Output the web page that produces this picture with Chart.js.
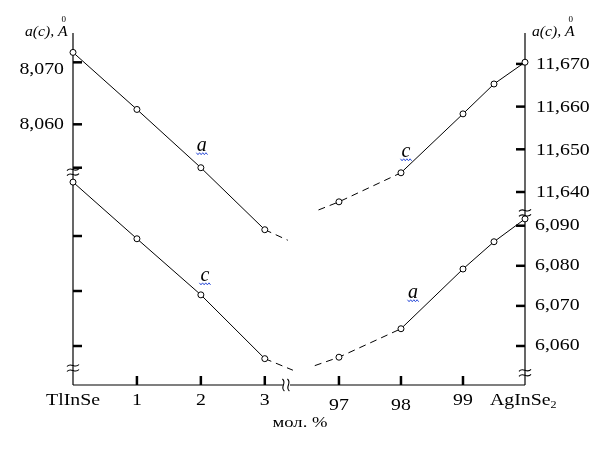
<!DOCTYPE html>
<html>
<head>
<meta charset="utf-8">
<script src="https://cdn.jsdelivr.net/npm/chart.js@4.4.0/dist/chart.umd.min.js"></script>
<style>
    body { margin: 0; background: #fff; }
    canvas { display: block; }
</style>
</head>
<body>
<canvas id="latticeChart" width="611" height="450"></canvas>
<script>
// --- Data ---
// composition in mol. %; the extra point at the break is where the dashed trend stops
const tlinseAComp = [0, 1, 2, 3, 3.36];
const tlinseA = [8.0716, 8.0624, 8.0530, 8.0430, 8.0413];
const tlinseCComp = [0, 1, 2, 3, 3.44];
const tlinseC = [6.8598, 6.8495, 6.8393, 6.8277, 6.8256];
const aginseCComp = [96.67, 97, 98, 99, 99.5, 100];
const aginseC = [11.6358, 11.6377, 11.6445, 11.6583, 11.6653, 11.6704];
const aginseAComp = [96.61, 97, 98, 99, 99.5, 100];
const aginseA = [6.0551, 6.0572, 6.0643, 6.0792, 6.0860, 6.0917];

const xTickValues = [0, 1, 2, 3, 97, 98, 99, 100];
const xTickLabels = ['TlInSe', '1', '2', '3', '97', '98', '99', 'AgInSe'];
const leftTicksA = [8.053, 8.060, 8.070];
const leftTicksC = [6.830, 6.840, 6.850];   // no labels in the original
const rightTicksC = [11.640, 11.650, 11.660, 11.670];
const rightTicksA = [6.060, 6.070, 6.080, 6.090];

// --- Utilities ---
// the composition axis is broken between 3 and 97 mol. %
const X_MAX = 7.07;
const xPos = (comp) => comp < 50 ? comp : X_MAX - (100 - comp) * 0.97;
const fmt = (v) => v.toFixed(3).replace('.', ',');
const SERIF = '"Liberation Serif", "DejaVu Serif", serif';

// the original lettering is a slightly wide Times
const txt = (ctx, s, x, y, align, font, stretch = 1.2) => {
    ctx.save();
    ctx.font = font;
    ctx.textAlign = align;
    ctx.translate(x, y);
    ctx.scale(stretch, 1);
    ctx.fillText(s, 0, 0);
    const w = ctx.measureText(s).width * stretch;
    ctx.restore();
    return w;
};

const makeSet = (comps, values, axis, tail) => {
    const tailIdx = tail === 'end' ? comps.length - 1 : 0;
    return {
        data: comps.map((c, i) => ({ x: xPos(c), y: values[i] })),
        yAxisID: axis,
        borderColor: '#000',
        borderWidth: 1,
        pointRadius: (ctx) => ctx.dataIndex === tailIdx ? 0 : 3,
        pointBackgroundColor: '#fff',
        pointBorderColor: '#000',
        pointBorderWidth: 1,
        tension: 0,
        clip: false,
        segment: {
            borderDash: (ctx) => {
                if (tail === 'end') return ctx.p0DataIndex >= comps.length - 2 ? [7, 5] : undefined;
                return ctx.p0DataIndex <= 1 ? [7, 5] : undefined;
            }
        }
    };
};

const line = (ctx, x1, y1, x2, y2) => {
    ctx.beginPath();
    ctx.moveTo(x1, y1);
    ctx.lineTo(x2, y2);
    ctx.stroke();
};

// two small tildes across an axis
const breakMark = (ctx, x, y, rotate) => {
    ctx.save();
    ctx.translate(x, y);
    if (rotate) ctx.rotate(Math.PI / 2);
    ctx.strokeStyle = '#000';
    ctx.lineWidth = 1.1;
    [-2.5, 2.5].forEach(o => {
        ctx.beginPath();
        ctx.moveTo(-6, o + 1);
        ctx.bezierCurveTo(-2, o - 4, 2, o + 4, 6, o - 1);
        ctx.stroke();
    });
    ctx.restore();
};

const wavy = (ctx, cx, y) => {
    ctx.save();
    ctx.strokeStyle = '#2f4fd8';
    ctx.lineWidth = 1;
    ctx.beginPath();
    for (let i = 0; i <= 7; i++) {
        const px = cx - 5.5 + i * 1.6;
        const py = y + (i % 2 === 0 ? 0 : 2);
        if (i === 0) ctx.moveTo(px, py); else ctx.lineTo(px, py);
    }
    ctx.stroke();
    ctx.restore();
};

const axisTitle = (ctx, x, y) => {
    ctx.save();
    ctx.fillStyle = '#000';
    ctx.textBaseline = 'alphabetic';
    const w = txt(ctx, 'a(c), ', x, y, 'left', 'italic 14px ' + SERIF, 1.12);
    const aw = txt(ctx, 'A', x + w, y, 'left', 'italic 14px ' + SERIF, 1.12);
    txt(ctx, '0', x + w + aw / 2 + 1, y - 14, 'center', '9px ' + SERIF, 1);
    ctx.restore();
};

// --- Axes, breaks and labels drawn from the chart scales ---
const brokenAxes = {
    id: 'brokenAxes',
    beforeDatasetsDraw(chart) {
        const { ctx, chartArea: ca, scales } = chart;
        const x = scales.x;
        ctx.save();
        ctx.strokeStyle = '#000';
        ctx.lineWidth = 1.2;
        line(ctx, ca.left, ca.top, ca.left, ca.bottom);
        line(ctx, ca.right, ca.top, ca.right, ca.bottom);
        const bx = x.getPixelForValue(3.33);
        line(ctx, ca.left, ca.bottom, bx - 3, ca.bottom);
        line(ctx, bx + 4, ca.bottom, ca.right, ca.bottom);

        ctx.lineWidth = 2.5;
        xTickValues.slice(1, -1).forEach(v => {
            const px = x.getPixelForValue(xPos(v));
            line(ctx, px, ca.bottom, px, ca.bottom - 9);
        });
        leftTicksA.forEach(v => {
            const py = scales.yAL.getPixelForValue(v);
            line(ctx, ca.left, py, ca.left + 9, py);
        });
        leftTicksC.forEach(v => {
            const py = scales.yCL.getPixelForValue(v);
            line(ctx, ca.left, py, ca.left + 9, py);
        });
        rightTicksC.forEach(v => {
            const py = scales.yCR.getPixelForValue(v);
            line(ctx, ca.right - 9, py, ca.right, py);
        });
        rightTicksA.forEach(v => {
            const py = scales.yAR.getPixelForValue(v);
            line(ctx, ca.right - 9, py, ca.right, py);
        });

        // break marks
        breakMark(ctx, ca.left, scales.yAL.getPixelForValue(8.0523));
        breakMark(ctx, ca.left, scales.yCL.getPixelForValue(6.8260));
        breakMark(ctx, ca.right, scales.yCR.getPixelForValue(11.6351));
        breakMark(ctx, ca.right, scales.yAR.getPixelForValue(6.0533));
        breakMark(ctx, bx, ca.bottom, true);
        ctx.restore();
    },
    afterDatasetsDraw(chart) {
        const { ctx, chartArea: ca, scales } = chart;
        const F = '16.5px ' + SERIF;
        ctx.save();
        ctx.fillStyle = '#000';
        ctx.textBaseline = 'middle';

        // y tick labels
        leftTicksA.slice(1).forEach((v, i) => {
            txt(ctx, fmt(v), ca.left - 9, scales.yAL.getPixelForValue(v) + (i === 1 ? 7 : 0), 'right', F);
        });
        rightTicksC.forEach(v => {
            txt(ctx, fmt(v), ca.right + 11, scales.yCR.getPixelForValue(v) + 1, 'left', F);
        });
        rightTicksA.forEach(v => {
            txt(ctx, fmt(v), ca.right + 10, scales.yAR.getPixelForValue(v), 'left', F);
        });

        // x tick labels
        xTickValues.forEach((v, i) => {
            const px = scales.x.getPixelForValue(xPos(v));
            const dy = (v === 97 || v === 98) ? 21 : 16;
            if (v === 100) {
                const w = txt(ctx, xTickLabels[i], px - 35, ca.bottom + dy, 'left', F);
                txt(ctx, '2', px - 35 + w, ca.bottom + dy + 4, 'left', '11px ' + SERIF, 1.1);
            } else {
                txt(ctx, xTickLabels[i], px, ca.bottom + dy, 'center', F);
            }
        });
        txt(ctx, '\u043c\u043e\u043b. %', 300, ca.bottom + 38, 'center', '15.5px ' + SERIF);

        // axis titles
        axisTitle(ctx, 25, 36);
        axisTitle(ctx, 532, 36);

        // curve labels next to the 2 and 98 mol. % points
        const labels = [
            { ds: 0, idx: 2, text: 'a', dx: 1, dy: -22 },
            { ds: 1, idx: 2, text: 'c', dx: 4, dy: -19 },
            { ds: 2, idx: 2, text: 'c', dx: 5, dy: -21 },
            { ds: 3, idx: 2, text: 'a', dx: 12, dy: -36 }
        ];
        labels.forEach(l => {
            const pt = chart.getDatasetMeta(l.ds).data[l.idx];
            const lx = pt.x + l.dx;
            const ly = pt.y + l.dy;
            txt(ctx, l.text, lx, ly, 'center', 'italic 20px ' + SERIF, 1);
            wavy(ctx, lx, ly + 7);
        });
        ctx.restore();
    }
};

const ctx = document.getElementById('latticeChart').getContext('2d');
new Chart(ctx, {
    type: 'line',
    data: {
        datasets: [
            makeSet(tlinseAComp, tlinseA, 'yAL', 'end'),
            makeSet(tlinseCComp, tlinseC, 'yCL', 'end'),
            makeSet(aginseCComp, aginseC, 'yCR', 'start'),
            makeSet(aginseAComp, aginseA, 'yAR', 'start')
        ]
    },
    options: {
        responsive: false,
        animation: false,
        layout: { padding: { left: 73, right: 86, top: 33, bottom: 65 } },
        plugins: {
            legend: { display: false },
            tooltip: { enabled: false }
        },
        scales: {
            x: { type: 'linear', min: 0, max: X_MAX, display: false },
            yAL: { type: 'linear', position: 'left', min: 8.01795, max: 8.07473, display: false },
            yCL: { type: 'linear', position: 'left', min: 6.82291, max: 6.88691, display: false },
            yCR: { type: 'linear', position: 'right', min: 11.59480, max: 11.67724, display: false },
            yAR: { type: 'linear', position: 'right', min: 6.05027, max: 6.13806, display: false }
        }
    },
    plugins: [brokenAxes]
});
</script>
</body>
</html>
